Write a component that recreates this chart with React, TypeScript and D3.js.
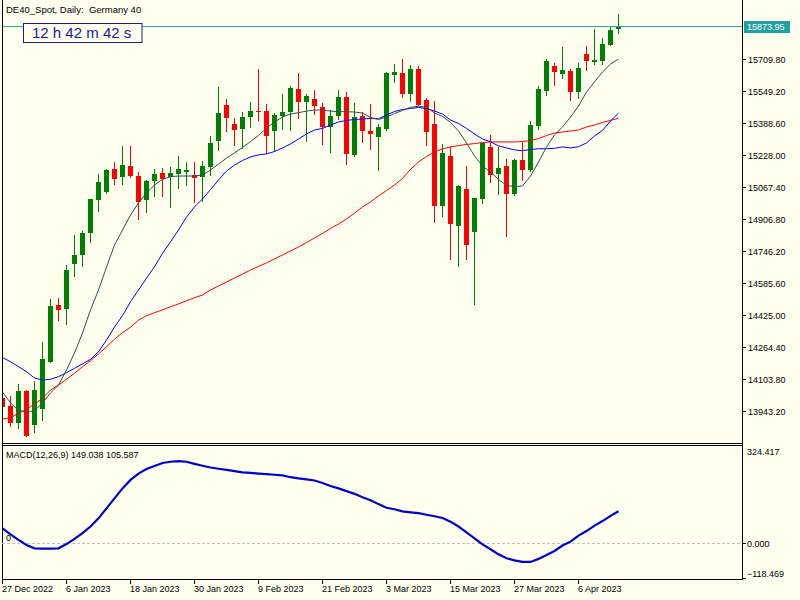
import * as d3 from 'd3'

// DE40 daily bars, 27 Dec 2022 .. mid Apr 2023
const open = [14008, 13970, 13886, 14047, 13876, 13956, 14191, 14477, 14458, 14683,
  14729, 14840, 15004, 15044, 15158, 15121, 15174, 15124, 15005, 15101,
  15138, 15121, 15136, 15146, 15129, 15117, 15171, 15301, 15480, 15385,
  15360, 15422, 15452, 15450, 15352, 15427, 15447, 15561, 15497, 15511,
  15469, 15372, 15425, 15521, 15230, 15425, 15350, 15321, 15359, 15630,
  15641, 15537, 15661, 15506, 15385, 14975, 15225, 14875, 15059, 14845,
  15010, 15270, 15136, 15174, 15034, 15204, 15154, 15375, 15552, 15676,
  15636, 15651, 15547, 15738, 15696, 15701, 15783, 15863]
const high = [14040, 14020, 14080, 14050, 14097, 14291, 14508, 14512, 14677, 14828,
  14850, 15009, 15134, 15158, 15194, 15275, 15275, 15143, 15104, 15158,
  15163, 15171, 15225, 15194, 15196, 15199, 15325, 15572, 15512, 15415,
  15445, 15496, 15661, 15486, 15439, 15536, 15576, 15641, 15536, 15556,
  15492, 15455, 15556, 15546, 15492, 15445, 15486, 15385, 15646, 15686,
  15710, 15681, 15676, 15516, 15501, 15283, 15268, 15079, 15174, 15014,
  15290, 15330, 15270, 15209, 15209, 15295, 15400, 15576, 15711, 15690,
  15773, 15661, 15693, 15778, 15862, 15818, 15877, 15939]
const low = [13950, 13863, 13856, 13813, 13836, 13896, 14184, 14398, 14378, 14619,
  14669, 14789, 14945, 15034, 15080, 15079, 15116, 14903, 14940, 15020,
  15020, 14965, 15057, 15075, 14990, 14994, 15124, 15251, 15346, 15276,
  15261, 15367, 15400, 15235, 15243, 15355, 15352, 15410, 15296, 15432,
  15278, 15241, 15404, 15179, 15221, 15290, 15256, 15151, 15352, 15589,
  15517, 15497, 15475, 15275, 14890, 14920, 14703, 14669, 14703, 14477,
  14984, 15091, 15029, 14820, 15025, 15101, 15144, 15355, 15527, 15577,
  15611, 15502, 15509, 15651, 15683, 15683, 15778, 15838]
const close = [13966, 13883, 14047, 13819, 14050, 14207, 14472, 14452, 14652, 14726,
  14840, 15009, 15096, 15154, 15111, 15181, 15126, 14994, 15099, 15134,
  15111, 15138, 15158, 15154, 15116, 15174, 15290, 15440, 15415, 15355,
  15420, 15450, 15445, 15326, 15430, 15445, 15564, 15497, 15526, 15475,
  15372, 15425, 15521, 15233, 15420, 15352, 15336, 15369, 15641, 15646,
  15538, 15661, 15480, 15346, 14975, 15240, 14885, 15074, 14779, 15014,
  15290, 15129, 15164, 15035, 15206, 15156, 15380, 15559, 15701, 15646,
  15656, 15547, 15666, 15701, 15706, 15788, 15857, 15873.95]

// moving averages as drawn on the chart
const maFast = [14040, 13985, 13947, 13941, 13946, 13985, 14035, 14075, 14151, 14236,
  14336, 14452, 14552, 14667, 14778, 14853, 14928, 14989, 15039, 15079,
  15107, 15121, 15124, 15124, 15124, 15129, 15154, 15184, 15214, 15240,
  15267, 15297, 15327, 15365, 15395, 15420, 15435, 15442, 15450, 15455,
  15455, 15450, 15447, 15447, 15445, 15440, 15418, 15408, 15420, 15438,
  15453, 15469, 15474, 15469, 15440, 15423, 15393, 15350, 15290, 15225,
  15174, 15144, 15107, 15076, 15071, 15074, 15124, 15194, 15270, 15330,
  15370, 15420, 15475, 15546, 15596, 15646, 15686, 15711]
const maMid = [14213, 14192, 14167, 14142, 14110, 14100, 14104, 14117, 14137, 14159,
  14181, 14204, 14242, 14301, 14366, 14423, 14493, 14552, 14611, 14669,
  14736, 14794, 14853, 14918, 14969, 15009, 15056, 15104, 15149, 15179,
  15202, 15220, 15230, 15235, 15247, 15265, 15285, 15310, 15335, 15355,
  15363, 15380, 15395, 15403, 15408, 15410, 15413, 15411, 15430, 15448,
  15458, 15463, 15468, 15463, 15450, 15435, 15405, 15388, 15363, 15335,
  15310, 15296, 15275, 15265, 15255, 15251, 15257, 15261, 15261, 15263,
  15270, 15265, 15271, 15290, 15325, 15353, 15400, 15440]
const maSlow = [13905, 13911, 13933, 13953, 13980, 14008, 14050, 14075, 14104, 14134,
  14167, 14197, 14231, 14267, 14305, 14338, 14365, 14401, 14423, 14438,
  14452, 14468, 14482, 14498, 14513, 14527, 14552, 14572, 14592, 14612,
  14632, 14652, 14670, 14688, 14708, 14728, 14748, 14768, 14790, 14813,
  14836, 14861, 14883, 14908, 14938, 14969, 14994, 15024, 15051, 15079,
  15112, 15157, 15194, 15222, 15245, 15260, 15270, 15277, 15282, 15287,
  15292, 15295, 15295, 15295, 15295, 15297, 15302, 15312, 15327, 15340,
  15345, 15350, 15355, 15370, 15380, 15393, 15403, 15414]

// MACD signal line
const signal = [49, 29, 11, -6, -17, -18, -18, -17, -3, 14,
  33, 55, 82, 115, 148, 181, 209, 230, 245, 255,
  265, 269, 271, 269, 262, 256, 250, 246, 242, 238,
  234, 232, 230, 228, 226, 224, 218, 214, 211, 207,
  199, 189, 181, 172, 163, 152, 142, 129, 117, 112,
  105, 102, 99, 94, 89, 83, 71, 55, 36, 16,
  -4, -20, -37, -50, -57, -62, -62, -52, -39, -26,
  -8, 5, 25, 40, 58, 73, 90, 105.587]

const priceTicks = [15709.8, 15549.2, 15388.6, 15228.0, 15067.4, 14906.8, 14746.2,
  14585.6, 14425.0, 14264.4, 14103.8, 13943.2]
const dateLabels = ['27 Dec 2022', '6 Jan 2023', '18 Jan 2023', '30 Jan 2023', '9 Feb 2023',
  '21 Feb 2023', '3 Mar 2023', '15 Mar 2023', '27 Mar 2023', '6 Apr 2023']
const LABEL_EVERY = 8
const lastPrice = 15873.95
const macdMax = 324.417, macdMin = -118.469
const macdTitle = 'MACD(12,26,9) 149.038 105.587'

const W = 800, H = 600
const L = 2, R = 742, MAIN_B = 443, SUB_T = 445, SUB_B = 579
const BG = '#FFFFF0'
const FONT = '"Liberation Sans", Arial, sans-serif'
const TEAL = '#20A0A0'

export default function App() {
  const x = d3.scaleLinear().domain([0, close.length - 1]).range([2.5, 2.5 + 8 * (close.length - 1)])
  const y = d3.scaleLinear().domain([13943.2, 15709.8]).range([411.3, 59.3])
  const ym = d3.scaleLinear().domain([macdMin, macdMax]).range([SUB_B, SUB_T])

  const maLine = (vals: number[]) =>
    d3.line<number>().x((_, i) => x(i)).y(v => y(v))(vals) || ''
  const sigLine = d3.line<number>().x((_, i) => x(i)).y(v => ym(v))(signal) || ''

  const yLast = y(lastPrice)

  return (
    <svg width={W} height={H} style={{ position: 'absolute', left: 0, top: 0 }} fontFamily={FONT}>
      <defs>
        <clipPath id="mainClip"><rect x={L + 1} y={0} width={R - L - 1} height={MAIN_B} /></clipPath>
        <clipPath id="subClip"><rect x={L + 1} y={SUB_T + 1} width={R - L - 1} height={SUB_B - SUB_T - 1} /></clipPath>
      </defs>
      <rect width={W} height={H} fill={BG} />

      {/* candles */}
      <g clipPath="url(#mainClip)" shapeRendering="crispEdges">
        {close.map((c, i) => {
          const o = open[i]
          const col = c >= o ? '#008000' : '#FF0000'
          const cx = x(i)
          const top = Math.round(y(Math.max(o, c)))
          const bot = Math.round(y(Math.min(o, c)))
          return (
            <g key={i}>
              <line x1={cx} x2={cx} y1={Math.round(y(high[i]))} y2={Math.round(y(low[i]))} stroke={col} />
              <rect x={cx - 2.5} y={top} width={5} height={Math.max(1, bot - top)} fill={col} />
            </g>
          )
        })}
      </g>

      {/* moving averages */}
      <g clipPath="url(#mainClip)" fill="none" strokeWidth={1}>
        <path d={maLine(maSlow)} stroke="#FF0000" />
        <path d={maLine(maMid)} stroke="#0000FF" />
        <path d={maLine(maFast)} stroke="#2F4F4F" />
      </g>

      {/* current price line */}
      <line x1={L} x2={R} y1={yLast} y2={yLast} stroke={TEAL} strokeWidth={1} />

      {/* countdown box */}
      <rect x={23.5} y={23.5} width={118.5} height={19} fill={BG} stroke="#1E1E78" />
      <text x={32} y={38} fontSize={15} fill="#1818A0">12 h 42 m 42 s</text>

      <text x={6} y={13} fontSize={9.5} fill="#000" style={{ whiteSpace: 'pre' }}>DE40_Spot, Daily:  Germany 40</text>

      {/* frames */}
      <g stroke="#000" shapeRendering="crispEdges">
        <line x1={L + 0.5} x2={L + 0.5} y1={0} y2={SUB_B + 1} />
        <line x1={R + 0.5} x2={R + 0.5} y1={0} y2={SUB_B + 1} />
        <line x1={L} x2={R + 1} y1={MAIN_B + 0.5} y2={MAIN_B + 0.5} />
        <line x1={L} x2={R + 1} y1={SUB_T + 0.5} y2={SUB_T + 0.5} />
        <line x1={L} x2={R + 1} y1={SUB_B + 0.5} y2={SUB_B + 0.5} />
      </g>

      {/* price axis */}
      {priceTicks.map(v => (
        <g key={v}>
          <line x1={R} x2={R + 4} y1={Math.round(y(v)) + 0.5} y2={Math.round(y(v)) + 0.5} stroke="#000" shapeRendering="crispEdges" />
          <text x={748} y={y(v) + 3.5} fontSize={9} fill="#000">{d3.format('.2f')(v)}</text>
        </g>
      ))}
      <rect x={744} y={21} width={46} height={12} fill={TEAL} />
      <text x={747} y={yLast + 3.5} fontSize={9} fill="#fff">{d3.format('.2f')(lastPrice)}</text>

      {/* MACD */}
      <line x1={L} x2={R} y1={Math.round(ym(0)) + 0.5} y2={Math.round(ym(0)) + 0.5}
        stroke="#C0C0C0" strokeDasharray="3,2" shapeRendering="crispEdges" />
      <g clipPath="url(#subClip)">
        <path d={sigLine} fill="none" stroke="#0000CC" strokeWidth={2.2} />
      </g>
      <text x={6} y={458} fontSize={9} fill="#000">{macdTitle}</text>
      <text x={6} y={541} fontSize={9} fill="#000">0</text>
      {[macdMax, 0, macdMin].map((v, k) => {
        const ty = k === 0 ? 454.5 : k === 1 ? ym(0) + 3.5 : 577
        const tickY = Math.round(k === 1 ? ym(0) : SUB_B - 1) + 0.5
        return (
          <g key={k}>
            {k > 0 && <line x1={R} x2={R + 4} y1={tickY} y2={tickY} stroke="#000" shapeRendering="crispEdges" />}
            <text x={747} y={ty} fontSize={9} fill="#000">{d3.format('.3f')(v)}</text>
          </g>
        )
      })}

      {/* date axis */}
      {dateLabels.map((lab, k) => {
        const tx = x(k * LABEL_EVERY)
        return (
          <g key={lab}>
            <line x1={Math.floor(tx) + 0.5} x2={Math.floor(tx) + 0.5} y1={SUB_B} y2={SUB_B + 5} stroke="#000" shapeRendering="crispEdges" />
            <text x={tx - 0.5} y={592} fontSize={9} fill="#000">{lab}</text>
          </g>
        )
      })}
    </svg>
  )
}
